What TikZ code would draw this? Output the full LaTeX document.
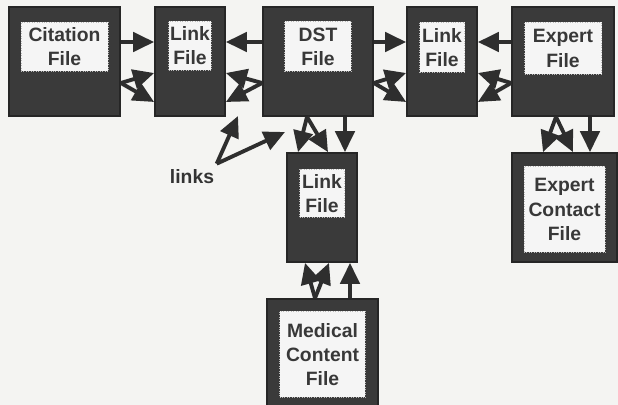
\documentclass[tikz,border=0pt]{standalone}
\usepackage{fontspec}
\setmainfont{Liberation Sans}
\usetikzlibrary{arrows.meta,positioning,calc}
\definecolor{filegray}{HTML}{3A3A3A}
\definecolor{paper}{HTML}{F4F4F2}

\begin{document}
\begin{tikzpicture}[x=0.02cm,y=-0.02cm,
  font=\fontsize{11}{13.7}\selectfont\bfseries,
  filebox/.style={rectangle,fill=filegray,draw=black!85,line width=1pt,inner sep=0pt},
  filelabel/.style={rectangle,fill=gray!8,draw=gray!55,densely dotted,
                    inner sep=0pt,align=center,text=black!78},
  link/.style={-{Triangle[length=12pt,width=11pt]},line width=2.2pt,draw=black!82}]
  % Page
  \fill[paper] (0,0) rectangle (618,405);
  \useasboundingbox (0,0) rectangle (618,405);
  % Top row of files
  \node[filebox,minimum width=2.22cm,minimum height=2.18cm] (cit) at (64.5,61.5) {};
  \node[filebox,minimum width=1.4cm,minimum height=2.18cm] (lnkA) at (190,61.5) {};
  \node[filebox,minimum width=2.2cm,minimum height=2.18cm] (dst) at (318,61.5) {};
  \node[filebox,minimum width=1.4cm,minimum height=2.18cm] (lnkB) at (442,61.5) {};
  \node[filebox,minimum width=2.04cm,minimum height=2.18cm] (exp) at (563,61.5) {};
  % Lower files
  \node[filebox,minimum width=1.4cm,minimum height=2.18cm] (lnkC) at (322,207.5) {};
  \node[filebox,minimum width=2.1cm,minimum height=2.18cm] (ctc) at (564.5,207.5) {};
  \node[filebox,minimum width=2.22cm,minimum height=2.24cm] (med) at (322.5,355) {};
  % Labels
  \node[filelabel,minimum width=1.74cm,minimum height=0.98cm,below=0.32cm of cit.north] {Citation\\File};
  \node[filelabel,minimum width=0.86cm,minimum height=0.98cm,below=0.3cm of lnkA.north] {Link\\File};
  \node[filelabel,minimum width=1.34cm,minimum height=1.0cm,below=0.3cm of dst.north] {DST\\File};
  \node[filelabel,minimum width=0.9cm,minimum height=1.0cm,below=0.32cm of lnkB.north] {Link\\File};
  \node[filelabel,minimum width=1.54cm,minimum height=1.04cm,below=0.32cm of exp.north] {Expert\\File};
  \node[filelabel,minimum width=0.9cm,minimum height=0.96cm,below=0.34cm of lnkC.north] {Link\\File};
  \node[filelabel,minimum width=1.62cm,minimum height=1.72cm,below=0.28cm of ctc.north] {Expert\\Contact\\File};
  \node[filelabel,minimum width=1.72cm,minimum height=1.72cm,below=0.26cm of med.north] {Medical\\Content\\File};
  % Horizontal links
  \draw[link] ([yshift=0.39cm]cit.east) -- ([yshift=0.39cm]lnkA.west);
  \draw[link] ([yshift=-0.43cm]cit.east) -- ([yshift=-0.23cm]lnkA.west);
  \draw[link] ([yshift=-0.43cm]cit.east) -- ([yshift=-0.81cm]lnkA.west);
  \draw[link] ([yshift=0.39cm]dst.west) -- ([yshift=0.39cm]lnkA.east);
  \draw[link] ([yshift=-0.43cm]dst.west) -- ([yshift=-0.23cm]lnkA.east);
  \draw[link] ([yshift=-0.43cm]dst.west) -- ([yshift=-0.81cm]lnkA.east);
  \draw[link] ([yshift=0.39cm]dst.east) -- ([yshift=0.39cm]lnkB.west);
  \draw[link] ([yshift=-0.43cm]dst.east) -- ([yshift=-0.23cm]lnkB.west);
  \draw[link] ([yshift=-0.43cm]dst.east) -- ([yshift=-0.81cm]lnkB.west);
  \draw[link] ([yshift=0.39cm]exp.west) -- ([yshift=0.39cm]lnkB.east);
  \draw[link] ([yshift=-0.43cm]exp.west) -- ([yshift=-0.23cm]lnkB.east);
  \draw[link] ([yshift=-0.43cm]exp.west) -- ([yshift=-0.81cm]lnkB.east);
  % Vertical links
  \draw[link] ([xshift=-0.22cm]dst.south) -- ([xshift=-0.48cm]lnkC.north);
  \draw[link] ([xshift=-0.22cm]dst.south) -- ([xshift=0.12cm]lnkC.north);
  \draw[link] ([xshift=0.54cm]dst.south) -- ([xshift=0.54cm]dst.south |- lnkC.north);
  \draw[link] ([xshift=-0.14cm]exp.south) -- ([xshift=-0.43cm]ctc.north);
  \draw[link] ([xshift=-0.14cm]exp.south) -- ([xshift=0.17cm]ctc.north);
  \draw[link] ([xshift=0.54cm]exp.south) -- ([xshift=0.54cm]exp.south |- ctc.north);
  \draw[link] ([xshift=-0.15cm]med.north) -- ([xshift=-0.34cm]lnkC.south);
  \draw[link] ([xshift=-0.15cm]med.north) -- ([xshift=0.14cm]lnkC.south);
  \draw[link] ([xshift=0.55cm]med.north) -- ([xshift=0.55cm]med.north |- lnkC.south);
  % Callout
  \node[text=black!80] (links) at (192,177) {links};
  \coordinate (tipA) at (238,116);
  \coordinate (tipB) at (285,132);
  \draw[link] ([xshift=-2pt]links.north east) -- (tipA);
  \draw[link] ([xshift=-2pt]links.north east) -- (tipB);
\end{tikzpicture}
\end{document}
